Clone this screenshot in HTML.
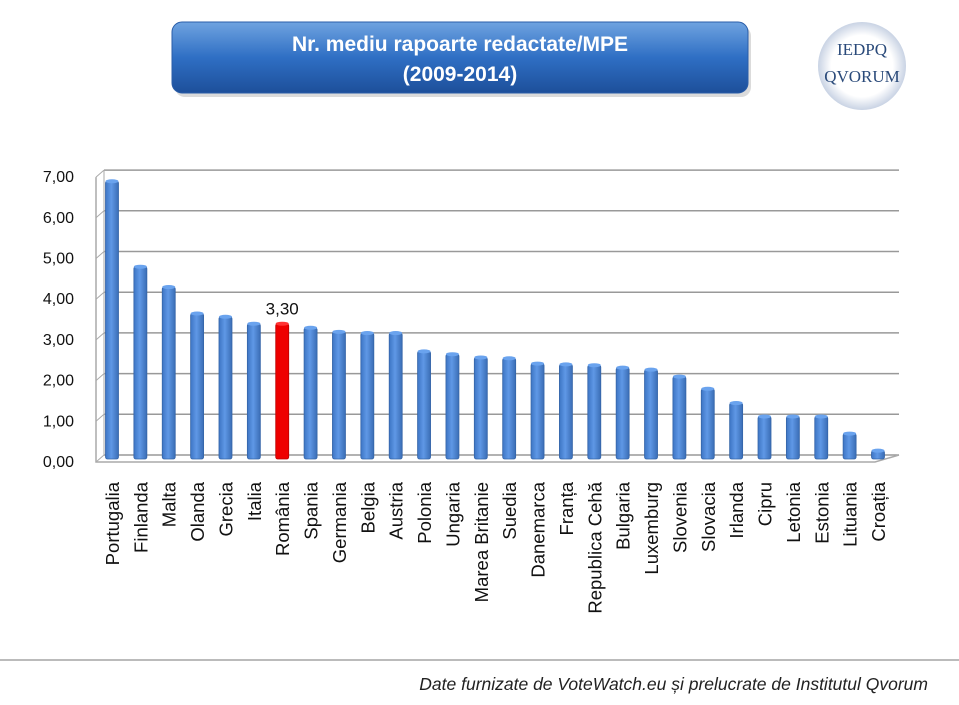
<!DOCTYPE html>
<html><head><meta charset="utf-8"><style>
body{margin:0;background:#fff;width:959px;height:700px;overflow:hidden;font-family:"Liberation Sans",sans-serif}
</style></head><body>
<svg width="959" height="700" viewBox="0 0 959 700">
<defs>
<linearGradient id="tg" x1="0" y1="0" x2="0" y2="1"><stop offset="0" stop-color="#6fa3e0"/><stop offset="0.5" stop-color="#2f6fc4"/><stop offset="1" stop-color="#1d4f9a"/></linearGradient>
<linearGradient id="bb" x1="0" y1="0" x2="1" y2="0"><stop offset="0" stop-color="#3d75c4"/><stop offset="0.45" stop-color="#5f98e6"/><stop offset="1" stop-color="#3a6db5"/></linearGradient>
<radialGradient id="lg"><stop offset="0.7" stop-color="#fff"/><stop offset="1" stop-color="#c9d3e4"/></radialGradient>
</defs>
<rect x="175" y="26" width="576" height="71" rx="10" fill="#999" opacity="0.35"/>
<rect x="172" y="22" width="576" height="71" rx="10" fill="url(#tg)" stroke="#2a5da8"/>
<text x="460" y="51" text-anchor="middle" font-size="21" font-weight="bold" fill="#fff">Nr. mediu rapoarte redactate/MPE</text>
<text x="460" y="81" text-anchor="middle" font-size="21" font-weight="bold" fill="#fff">(2009-2014)</text>
<g>
<circle cx="862" cy="66" r="44" fill="url(#lg)"/>
<text x="862" y="55" text-anchor="middle" font-family="Liberation Serif,serif" font-size="17" fill="#2a4a7a">IEDPQ</text>
<text x="862" y="82" text-anchor="middle" font-family="Liberation Serif,serif" font-size="17" fill="#2a4a7a">QVORUM</text>
</g>
<g id="chart"></g>
<line x1="0" y1="660" x2="959" y2="660" stroke="#bbb" stroke-width="2"/>
<text x="928" y="690" text-anchor="end" font-size="17.5" font-style="italic" fill="#222">Date furnizate de VoteWatch.eu și prelucrate de Institutul Qvorum</text>
</svg>
<script>
const categories=["Portugalia","Finlanda","Malta","Olanda","Grecia","Italia","România","Spania","Germania","Belgia","Austria","Polonia","Ungaria","Marea Britanie","Suedia","Danemarca","Franța","Republica Cehă","Bulgaria","Luxemburg","Slovenia","Slovacia","Irlanda","Cipru","Letonia","Estonia","Lituania","Croația"];
const values=[6.8,4.7,4.2,3.55,3.47,3.3,3.3,3.2,3.1,3.07,3.07,2.62,2.55,2.47,2.45,2.32,2.3,2.28,2.22,2.17,2.0,1.7,1.35,1.02,1.02,1.02,0.6,0.18];
const highlight=["România"];
const yTicks=[0,1,2,3,4,5,6,7];
const yTickLabels=["0,00","1,00","2,00","3,00","4,00","5,00","6,00","7,00"];
const NS="http://www.w3.org/2000/svg";
const g=document.getElementById('chart');
const y0=455,yk=40.7,backL=104,backR=899,dx=-8,dy=7;
function y(v){return y0-v*yk;}
function x(i){return 112+i*28.37;}
function mk(t,a){const e=document.createElementNS(NS,t);for(const k in a)e.setAttribute(k,a[k]);g.appendChild(e);return e;}
yTicks.forEach((t,i)=>{
 const l=mk('line',{x1:backL,y1:y(t),x2:backR,y2:y(t),stroke:'#999','stroke-width':1.5});
 
 
 const tk=mk('line',{x1:backL,y1:y(t),x2:backL+dx,y2:y(t)+dy,stroke:'#aaa'});
 
 
 const tx=mk('text',{x:74,y:y(t)+dy+5,'text-anchor':'end','font-size':16,fill:'#111'});
 tx.textContent=yTickLabels[i];
 
 
});
const ax=mk('line',{x1:backL,y1:y(7),x2:backL,y2:y(0),stroke:'#aaa'});


const ax2=mk('path',{d:`M${backL+dx} ${y(7)+dy} L${backL+dx} ${y0+dy} L${backR+dx-16} ${y0+dy} L${backR} ${y0}`,fill:'none',stroke:'#aaa','stroke-width':1.5});


categories.forEach((c,i)=>{
 const red=highlight.includes(c);
 const cx=x(i),w=13,top=y(values[i])+3,bot=y0+4;
 const b=mk('rect',{x:cx-w/2,y:top,width:w,height:bot-top,rx:2,fill:red?'#ee0000':'url(#bb)',stroke:red?'#b00':'#3565a8','stroke-width':0.8});
 
 
 const cap=mk('ellipse',{cx:cx,cy:top,rx:w/2,ry:2,fill:red?'#f33':'#6aa3ee'});
 
 
 const t=mk('text',{transform:`translate(${cx+7},482) rotate(-90)`,'text-anchor':'end','font-size':18.5,fill:'#111'});
 t.textContent=c;
 
 
 if(red){
  const v=mk('text',{x:cx,y:top-9,'text-anchor':'middle','font-size':17,fill:'#111'});
  v.textContent=values[i].toFixed(2).replace('.',',');
  
  
 }
});
</script>
</body></html>
